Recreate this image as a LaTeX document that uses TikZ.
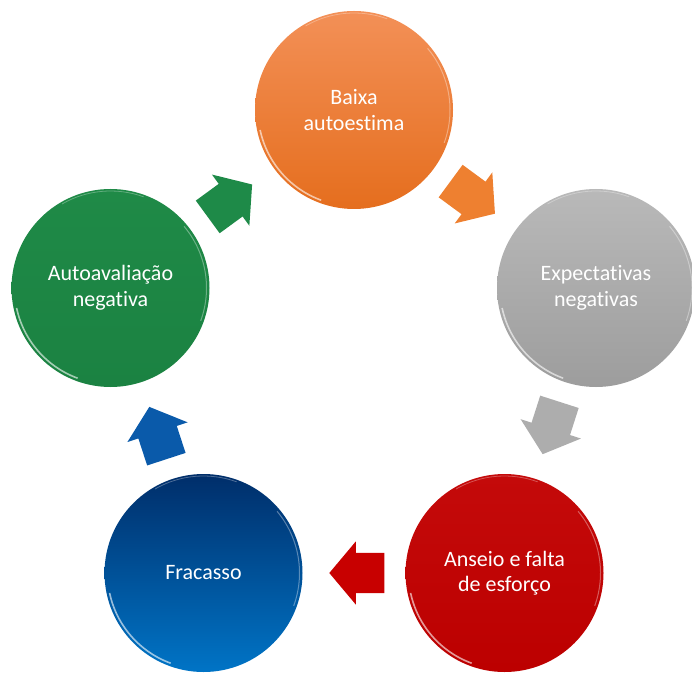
\documentclass[tikz,border=0pt]{standalone}
\usepackage{fontspec}
\setmainfont{Carlito}[RawFeature=-liga]
\usetikzlibrary{shapes.arrows,calc}
\definecolor{orT}{HTML}{F39057}
\definecolor{orB}{HTML}{E56E1E}
\definecolor{grT}{HTML}{B9B9B9}
\definecolor{grB}{HTML}{9D9D9D}
\definecolor{rdT}{HTML}{C40A0A}
\definecolor{rdB}{HTML}{BC0000}
\definecolor{blT}{HTML}{002E6A}
\definecolor{blB}{HTML}{0074C6}
\definecolor{gnT}{HTML}{1F8A47}
\definecolor{gnB}{HTML}{1B8242}
\definecolor{arO}{HTML}{EE8030}
\definecolor{arG}{HTML}{ADADAD}
\definecolor{arR}{HTML}{C80000}
\definecolor{arB}{HTML}{0A5AAA}
\definecolor{arV}{HTML}{1E8A48}
\begin{document}
\begin{tikzpicture}[x=1pt,y=1pt,
  disc/.style 2 args={circle, minimum size=198pt, inner sep=0pt, text=white,
    align=center, font=\fontsize{22}{25.5}\selectfont,
    top color=#1, bottom color=#2},
  blk/.style={single arrow, draw=none, fill=#1, minimum height=55pt,
    inner xsep=0pt, inner ysep=20pt, single arrow head extend=11.5pt,
    single arrow tip angle=100, sloped, allow upside down,
    pos=0.39}]
\useasboundingbox (0,0) rectangle (692,675);
\node[disc={orT}{orB}] (o) at (354,565) {Baixa\\autoestima};
\node[disc={grT}{grB}] (g) at (596,387) {Expectativas\\negativas};
\node[disc={rdT}{rdB}] (r) at (504.5,102) {Anseio e falta\\de esforço};
\node[disc={blT}{blB}] (b) at (203.5,102) {Fracasso};
\node[disc={gnT}{gnB}] (v) at (110.5,387) {Autoavaliação\\negativa};
\foreach \n in {o,g,r,b,v} {
  \draw[white, opacity=.6, line width=1.6pt]
    ($(\n)+(192:96)$) arc[start angle=192, end angle=250, radius=96];
  \draw[white, opacity=.35, line width=1pt]
    ($(\n)+(-20:96)$) arc[start angle=-20, end angle=40, radius=96];
  \draw[white, opacity=.3, line width=0.8pt]
    ($(\n)+(70:97)$) arc[start angle=70, end angle=120, radius=97];
}
\path (o) -- (g) node[blk=arO] (a1) {};
\path (g) -- (r) node[blk=arG] (a2) {};
\path (r) -- (b) node[blk=arR] (a3) {};
\path (b) -- (v) node[blk=arB] (a4) {};
\path (v) -- (o) node[blk=arV] (a5) {};
\end{tikzpicture}
\end{document}
